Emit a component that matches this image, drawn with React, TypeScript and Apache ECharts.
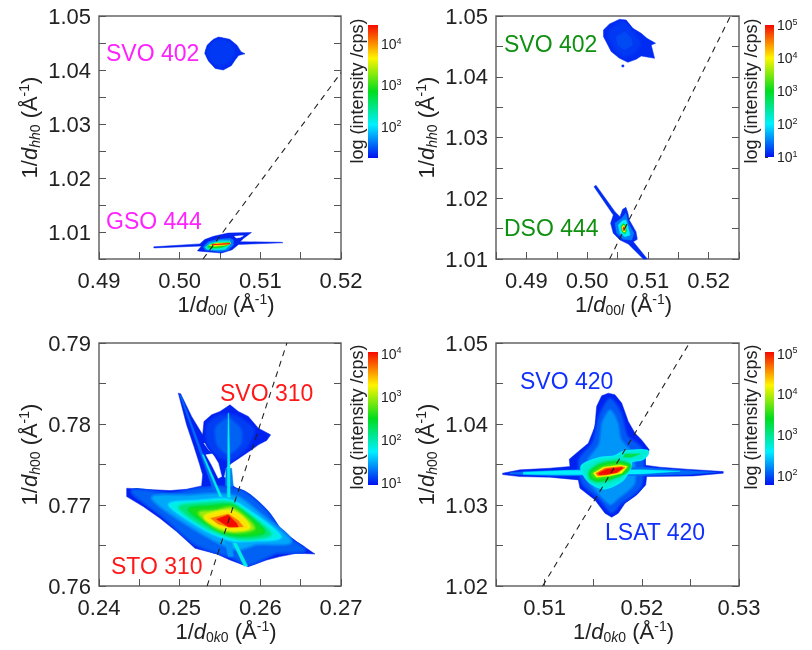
import React, { useEffect, useRef } from "react";
import * as echarts from "echarts";

type Contour = [number, number[][]];

const HOLE = -1;

const TICKS_X_A = [0.49, 0.495, 0.5, 0.505, 0.51, 0.515, 0.52];
const LABELS_X_A = [0.49, 0.5, 0.51, 0.52];
const TICKS_Y_A = [1.005, 1.01, 1.015, 1.02, 1.025, 1.03, 1.035, 1.04, 1.045, 1.05];
const LABELS_Y_A = [1.01, 1.02, 1.03, 1.04, 1.05];
const TICKS_X_B = [0.485, 0.49, 0.495, 0.5, 0.505, 0.51, 0.515, 0.52, 0.525];
const LABELS_X_B = [0.49, 0.5, 0.51, 0.52];
const TICKS_Y_B = [1.01, 1.015, 1.02, 1.025, 1.03, 1.035, 1.04, 1.045, 1.05];
const LABELS_Y_B = [1.01, 1.02, 1.03, 1.04, 1.05];
const TICKS_X_C = [0.24, 0.245, 0.25, 0.255, 0.26, 0.265, 0.27];
const LABELS_X_C = [0.24, 0.25, 0.26, 0.27];
const TICKS_Y_C = [0.76, 0.765, 0.77, 0.775, 0.78, 0.785, 0.79];
const LABELS_Y_C = [0.76, 0.77, 0.78, 0.79];
const TICKS_X_D = [0.505, 0.51, 0.515, 0.52, 0.525, 0.53];
const LABELS_X_D = [0.51, 0.52, 0.53];
const TICKS_Y_D = [1.02, 1.025, 1.03, 1.035, 1.04, 1.045, 1.05];
const LABELS_Y_D = [1.02, 1.03, 1.04, 1.05];

const CBAR_LOG_RANGE_A = [1.244, 4.46];
const CBAR_LOG_RANGE_B = [1, 5];
const CBAR_LOG_RANGE_C = [0.96, 4.04];
const CBAR_LOG_RANGE_D = [1.77, 5.04];
const CBAR_DECADES_A = [2, 3, 4];
const CBAR_DECADES_B = [1, 2, 3, 4, 5];
const CBAR_DECADES_C = [1, 2, 3, 4];
const CBAR_DECADES_D = [2, 3, 4, 5];

const DASH_A = [[0.5029, 1.005], [0.52, 1.0395]];
const DASH_B = [[0.5037, 1.01], [0.5236, 1.05]];
const DASH_C = [[0.2534, 0.76], [0.2633, 0.79]];
const DASH_D = [[0.5098, 1.02], [0.5249, 1.05]];

const CONTOURS_A: Contour[] = [
  [0.03, [[0.5048, 1.0461], [0.5062, 1.0457], [0.5071, 1.0446], [0.5076, 1.0434], [0.5081, 1.043], [0.5073, 1.0427], [0.5069, 1.0419], [0.5064, 1.0408], [0.5054, 1.04], [0.5044, 1.0403], [0.5036, 1.0416], [0.5031, 1.0431], [0.5034, 1.0446], [0.5042, 1.0457]]],
  [0.045, [[0.50417, 1.04495], [0.50521, 1.04544], [0.50624, 1.04464], [0.50665, 1.0431], [0.50603, 1.04156], [0.505, 1.04094], [0.50397, 1.04186], [0.50355, 1.0434]]],
  [0.02, [[0.4968, 1.00725], [0.5025, 1.0078], [0.5031, 1.0086], [0.5042, 1.0092], [0.506, 1.0098], [0.5089, 1.0099], [0.5079, 1.0088], [0.5075, 1.0082], [0.5126, 1.0081], [0.5128, 1.008], [0.5073, 1.0077], [0.5065, 1.0067], [0.5052, 1.0061], [0.5029, 1.0064], [0.5022, 1.0065], [0.5027, 1.0074], [0.4968, 1.00705]]],
  [HOLE, [[0.5068, 1.0092], [0.5075, 1.0093], [0.5079, 1.0093], [0.5075, 1.009], [0.507, 1.0089]]],
  [0.12, [[0.50293, 1.00728], [0.50355, 1.0082], [0.50479, 1.00864], [0.50624, 1.00881], [0.50665, 1.00854], [0.50665, 1.00759], [0.50603, 1.00666], [0.505, 1.00635], [0.50314, 1.00666]]],
  [0.3, [[0.50314, 1.00715], [0.50376, 1.0079], [0.505, 1.00839], [0.50624, 1.00839], [0.50624, 1.00759], [0.50562, 1.00678], [0.50458, 1.00666], [0.50343, 1.00678]]],
  [0.5, [[0.50343, 1.00728], [0.50417, 1.0079], [0.50624, 1.00808], [0.50591, 1.00746], [0.505, 1.00709], [0.50376, 1.00697]]],
  [0.75, [[0.50368, 1.00752], [0.50458, 1.00796], [0.50636, 1.00796], [0.50582, 1.00759], [0.50438, 1.00734]]],
  [1, [[0.50396, 1.00771], [0.50624, 1.0079], [0.50624, 1.00777], [0.50409, 1.00759]]],
];

const CONTOURS_B: Contour[] = [
  [0.03, [[0.50269, 1.0477], [0.50368, 1.04868], [0.50533, 1.04945], [0.50643, 1.04934], [0.50753, 1.04797], [0.5089, 1.04715], [0.50984, 1.04633], [0.51127, 1.04551], [0.51055, 1.04523], [0.5111, 1.04304], [0.5089, 1.04342], [0.50808, 1.04288], [0.50671, 1.04238], [0.50533, 1.04304], [0.50396, 1.04414], [0.50313, 1.04578], [0.50269, 1.0466]]],
  [0.045, [[0.50368, 1.04715], [0.50588, 1.04879], [0.50753, 1.04715], [0.50863, 1.04551], [0.50753, 1.04387], [0.50588, 1.0436], [0.50451, 1.04496]]],
  [0.065, [[0.50478, 1.0466], [0.50616, 1.04742], [0.50726, 1.04633], [0.50753, 1.04523], [0.50616, 1.04441], [0.50506, 1.04523]]],
  [0.03, [[0.50572, 1.04194], [0.50605, 1.04194], [0.50605, 1.04162], [0.50572, 1.04162]]],
  [0.03, [[0.50113, 1.02191], [0.50146, 1.02213], [0.50458, 1.01779], [0.50541, 1.01697], [0.50585, 1.01818], [0.50639, 1.0185], [0.50672, 1.01752], [0.50694, 1.01642], [0.50804, 1.0145], [0.50826, 1.01324], [0.5076, 1.01285], [0.50991, 1.01], [0.50925, 1.01], [0.50678, 1.01247], [0.50541, 1.01313], [0.50431, 1.01422], [0.50387, 1.01587], [0.50431, 1.01724]]],
  [0.12, [[0.50458, 1.01587], [0.50568, 1.01669], [0.50639, 1.01752], [0.50678, 1.01587], [0.50771, 1.01422], [0.50733, 1.01313], [0.50595, 1.01324], [0.50486, 1.01422]]],
  [0.25, [[0.50513, 1.0156], [0.50585, 1.01631], [0.50639, 1.01642], [0.50678, 1.01505], [0.50705, 1.01395], [0.50623, 1.01368], [0.50541, 1.01422]]],
  [0.5, [[0.50557, 1.01532], [0.50595, 1.01587], [0.50634, 1.0156], [0.5065, 1.01466], [0.50623, 1.01411], [0.50574, 1.0145]]],
  [0.75, [[0.50574, 1.01521], [0.50601, 1.0156], [0.50629, 1.01521], [0.50623, 1.01444], [0.50595, 1.0145]]],
  [1, [[0.5059, 1.01505], [0.50607, 1.01532], [0.50617, 1.01494], [0.50607, 1.01461]]],
];

const CONTOURS_C: Contour[] = [
  [0.02, [[0.24343, 0.77207], [0.24549, 0.77195], [0.2488, 0.77178], [0.25086, 0.77195], [0.25272, 0.77236], [0.25285, 0.77372], [0.25243, 0.77516], [0.25177, 0.77722], [0.25086, 0.7799], [0.24983, 0.78381], [0.25012, 0.78373], [0.25148, 0.78093], [0.25285, 0.77866], [0.25301, 0.78031], [0.25396, 0.78114], [0.255, 0.78155], [0.25624, 0.78237], [0.25727, 0.78155], [0.25851, 0.78093], [0.25975, 0.77949], [0.26128, 0.77866], [0.26078, 0.77796], [0.25975, 0.77743], [0.25892, 0.77681], [0.25768, 0.77599], [0.25644, 0.77516], [0.25574, 0.77454], [0.25549, 0.77351], [0.25624, 0.77269], [0.25727, 0.77187], [0.25892, 0.77084], [0.26037, 0.76981], [0.26119, 0.76836], [0.26285, 0.76672], [0.2645, 0.76548], [0.26677, 0.76396], [0.2645, 0.76404], [0.26243, 0.76363], [0.26078, 0.76321], [0.25851, 0.76239], [0.25789, 0.7626], [0.25624, 0.76321], [0.25458, 0.76396], [0.2519, 0.76466], [0.24962, 0.76672], [0.24756, 0.76836], [0.24549, 0.76981], [0.24343, 0.77104]]],
  [HOLE, [[0.25326, 0.77619], [0.25409, 0.77632], [0.25479, 0.77516], [0.2552, 0.77351], [0.25479, 0.77331], [0.25396, 0.77496]]],
  [HOLE, [[0.25301, 0.77763], [0.25355, 0.77743], [0.25425, 0.77648], [0.25367, 0.77673]]],
  [0.05, [[0.25355, 0.7799], [0.255, 0.78093], [0.25686, 0.78093], [0.25913, 0.77928], [0.2583, 0.77722], [0.25665, 0.77578], [0.255, 0.77599], [0.25355, 0.77763]]],
  [0.09, [[0.25458, 0.77949], [0.25603, 0.78052], [0.25748, 0.77928], [0.25748, 0.77763], [0.25603, 0.7764], [0.25479, 0.77743]]],
  [0.12, [[0.25574, 0.77454], [0.25644, 0.77454], [0.25665, 0.77228], [0.25566, 0.77228]]],
  [0.09, [[0.24425, 0.77166], [0.2488, 0.77125], [0.25252, 0.77187], [0.255, 0.77207], [0.25789, 0.77145], [0.26078, 0.76898], [0.26285, 0.7661], [0.26533, 0.76445], [0.26202, 0.76424], [0.25851, 0.7628], [0.25665, 0.76363], [0.2521, 0.76527], [0.24797, 0.76878]]],
  [0.1, [[0.25, 0.78361], [0.2502, 0.78348], [0.255, 0.77063], [0.25458, 0.77063]]],
  [0.17, [[0.24673, 0.77084], [0.25086, 0.77104], [0.255, 0.77125], [0.25727, 0.77084], [0.25995, 0.76878], [0.26367, 0.76548], [0.25954, 0.76527], [0.25706, 0.76466], [0.25293, 0.76651]]],
  [0.15, [[0.25562, 0.76548], [0.25644, 0.76548], [0.25665, 0.76363], [0.25603, 0.76363]]],
  [0.28, [[0.2528, 0.77619], [0.25296, 0.77619], [0.2556, 0.77022], [0.2553, 0.77014]]],
  [0.28, [[0.25644, 0.76569], [0.25685, 0.76569], [0.25843, 0.76247], [0.25797, 0.76247]]],
  [0.28, [[0.256, 0.78134], [0.25608, 0.78134], [0.25622, 0.77516], [0.25626, 0.77063], [0.2559, 0.77063], [0.25594, 0.77516]]],
  [0.28, [[0.2488, 0.77001], [0.25252, 0.77042], [0.25582, 0.77063], [0.25768, 0.76981], [0.26243, 0.7661], [0.25871, 0.76569], [0.25665, 0.76569], [0.25334, 0.76692]]],
  [0.4, [[0.25004, 0.76972], [0.25293, 0.77013], [0.25624, 0.77022], [0.25789, 0.76919], [0.26119, 0.76643], [0.2583, 0.76589], [0.25582, 0.7663], [0.25293, 0.76754]]],
  [0.52, [[0.25128, 0.76939], [0.25376, 0.76972], [0.25624, 0.76989], [0.25809, 0.76878], [0.26037, 0.76672], [0.25789, 0.7663], [0.25541, 0.76672]]],
  [0.65, [[0.25252, 0.76898], [0.25458, 0.76919], [0.25624, 0.7696], [0.25789, 0.76857], [0.25913, 0.76713], [0.25686, 0.76672], [0.25479, 0.76713]]],
  [0.77, [[0.25326, 0.76857], [0.25624, 0.76919], [0.25768, 0.76836], [0.25851, 0.76725], [0.25644, 0.767], [0.25458, 0.76754]]],
  [0.88, [[0.25384, 0.76836], [0.25603, 0.7689], [0.25727, 0.76808], [0.25789, 0.76733], [0.25624, 0.76721], [0.25479, 0.76766]]],
  [1, [[0.25458, 0.76824], [0.25603, 0.76878], [0.25706, 0.76775], [0.25727, 0.76729], [0.25603, 0.76733]]],
];

const CONTOURS_D: Contour[] = [
  [0.02, [[0.50568, 1.03392], [0.50747, 1.03434], [0.51055, 1.03454], [0.51261, 1.03475], [0.51254, 1.03565], [0.51347, 1.0366], [0.5145, 1.03763], [0.51518, 1.03969], [0.51535, 1.04216], [0.51587, 1.04348], [0.51656, 1.04381], [0.51724, 1.04361], [0.51793, 1.04258], [0.51861, 1.04031], [0.5193, 1.03887], [0.51998, 1.03804], [0.52077, 1.03681], [0.52033, 1.03578], [0.52015, 1.03495], [0.52187, 1.03467], [0.52461, 1.03442], [0.52838, 1.03413], [0.52838, 1.03392], [0.5253, 1.03359], [0.5205, 1.03351], [0.5204, 1.03248], [0.51947, 1.03125], [0.51827, 1.03022], [0.51758, 1.02898], [0.5169, 1.02849], [0.51621, 1.02898], [0.51518, 1.03063], [0.51364, 1.03207], [0.51347, 1.0331], [0.51055, 1.03343], [0.50747, 1.03351], [0.50568, 1.03376]]],
  [0.08, [[0.5157, 1.04093], [0.51673, 1.04299], [0.51775, 1.04134], [0.51844, 1.03846], [0.51998, 1.03681], [0.51981, 1.03228], [0.51775, 1.03022], [0.5169, 1.02919], [0.5157, 1.03083], [0.51398, 1.03269], [0.51364, 1.03557], [0.51501, 1.03763]]],
  [0.15, [[0.51604, 1.0401], [0.51673, 1.04155], [0.51741, 1.0401], [0.51775, 1.03804], [0.51895, 1.03619], [0.51913, 1.03269], [0.51741, 1.03083], [0.51673, 1.03022], [0.51535, 1.03186], [0.51433, 1.03351], [0.5145, 1.03537], [0.5157, 1.03743]]],
  [0.1, [[0.50644, 1.03401], [0.51055, 1.03425], [0.51501, 1.03442], [0.51998, 1.03467], [0.52461, 1.03425], [0.5277, 1.03405], [0.52461, 1.03376], [0.51998, 1.03364], [0.51055, 1.03359], [0.50644, 1.03384]]],
  [0.25, [[0.50781, 1.03405], [0.51227, 1.03425], [0.51998, 1.03434], [0.52393, 1.03417], [0.51998, 1.03384], [0.51227, 1.03372], [0.50781, 1.0338]]],
  [0.3, [[0.51398, 1.03467], [0.5157, 1.03557], [0.51724, 1.03578], [0.51827, 1.0364], [0.52043, 1.03648], [0.51998, 1.03586], [0.51878, 1.03557], [0.51861, 1.03454], [0.51775, 1.0331], [0.51604, 1.03228], [0.51467, 1.0331]]],
  [0.45, [[0.51827, 1.03631], [0.51981, 1.03631], [0.51895, 1.0359], [0.5181, 1.0359]]],
  [0.4, [[0.51467, 1.03413], [0.5157, 1.03508], [0.51741, 1.03537], [0.51861, 1.03495], [0.51827, 1.03413], [0.51707, 1.03331], [0.51553, 1.03289], [0.51467, 1.03331]]],
  [0.55, [[0.51484, 1.03401], [0.51587, 1.03483], [0.51758, 1.03516], [0.51861, 1.03483], [0.51817, 1.03413], [0.5169, 1.03351], [0.51553, 1.03318], [0.51494, 1.03343]]],
  [0.75, [[0.51501, 1.03392], [0.51604, 1.03467], [0.51775, 1.03495], [0.51851, 1.03475], [0.51793, 1.03392], [0.51673, 1.0336], [0.51535, 1.03343]]],
  [0.9, [[0.51528, 1.03392], [0.51621, 1.03454], [0.51792, 1.03475], [0.51827, 1.03462], [0.51758, 1.03401], [0.51638, 1.03372], [0.51546, 1.0336]]],
  [1, [[0.51553, 1.03392], [0.51638, 1.03442], [0.51792, 1.03462], [0.51803, 1.03454], [0.51741, 1.03401], [0.51638, 1.03376], [0.51563, 1.03372]]],
];

const FONT = "'Liberation Sans', Arial, sans-serif";
const INK = "#222";
const STOPS: [number, number[]][] = [
  [0, [0, 16, 240]],
  [0.25, [0, 240, 255]],
  [0.5, [0, 220, 30]],
  [0.75, [255, 245, 0]],
  [1, [245, 10, 0]],
];

function colorOf(t: number): string {
  if (t < 0) return "#ffffff";
  for (let i = 1; i < STOPS.length; i++) {
    if (t <= STOPS[i][0]) {
      const [t0, c0] = STOPS[i - 1];
      const [t1, c1] = STOPS[i];
      const f = (t - t0) / (t1 - t0);
      const c = c0.map((v, k) => Math.round(v + (c1[k] - v) * f));
      return `rgb(${c[0]},${c[1]},${c[2]})`;
    }
  }
  return "rgb(245,10,0)";
}

function isBroadRegion(pts: number[][]): boolean {
  let a = 0;
  let perimeter = 0;
  for (let i = 0; i < pts.length; i++) {
    const q = pts[(i + 1) % pts.length];
    a += pts[i][0] * q[1] - q[0] * pts[i][1];
    perimeter += Math.hypot(q[0] - pts[i][0], q[1] - pts[i][1]);
  }
  const area = Math.abs(a) / 2;
  return area > 350 && area / perimeter > 4;
}

const richName = {
  m: { fontSize: 22, fontFamily: FONT, color: INK },
  i: { fontSize: 22, fontFamily: FONT, fontStyle: "italic", color: INK },
  si: { fontSize: 14, fontFamily: FONT, fontStyle: "italic", color: INK, padding: [11, 0, 0, 0] },
  s: { fontSize: 14, fontFamily: FONT, color: INK, padding: [11, 0, 0, 0] },
  p: { fontSize: 14, fontFamily: FONT, color: INK, padding: [0, 0, 11, 0] },
};

const nameOf = (sub: string) => `{m|1/}{i|d}${sub}{m| (Å}{p|-1}{m|)}`;

interface Panel {
  grid: number[];
  bar: number[];
  ticksX: number[];
  labelsX: number[];
  ticksY: number[];
  labelsY: number[];
  nameX: string;
  nameY: string;
  contours: Contour[];
  dash: number[][];
  range: number[];
  decades: number[];
}

const PANELS: Panel[] = [
  { grid: [99, 16, 242, 243], bar: [368, 25, 10, 133], ticksX: TICKS_X_A, labelsX: LABELS_X_A, ticksY: TICKS_Y_A, labelsY: LABELS_Y_A, nameX: nameOf("{s|00}{si|l}"), nameY: nameOf("{si|hh}{s|0}"), contours: CONTOURS_A, dash: DASH_A, range: CBAR_LOG_RANGE_A, decades: CBAR_DECADES_A },
  { grid: [496, 16, 243, 243], bar: [765, 25, 9, 132], ticksX: TICKS_X_B, labelsX: LABELS_X_B, ticksY: TICKS_Y_B, labelsY: LABELS_Y_B, nameX: nameOf("{s|00}{si|l}"), nameY: nameOf("{si|hh}{s|0}"), contours: CONTOURS_B, dash: DASH_B, range: CBAR_LOG_RANGE_B, decades: CBAR_DECADES_B },
  { grid: [99, 343, 242, 243], bar: [368, 352, 10, 133], ticksX: TICKS_X_C, labelsX: LABELS_X_C, ticksY: TICKS_Y_C, labelsY: LABELS_Y_C, nameX: nameOf("{s|0}{si|k}{s|0}"), nameY: nameOf("{si|h}{s|00}"), contours: CONTOURS_C, dash: DASH_C, range: CBAR_LOG_RANGE_C, decades: CBAR_DECADES_C },
  { grid: [496, 343, 243, 243], bar: [765, 352, 9, 133], ticksX: TICKS_X_D, labelsX: LABELS_X_D, ticksY: TICKS_Y_D, labelsY: LABELS_Y_D, nameX: nameOf("{s|0}{si|k}{s|0}"), nameY: nameOf("{si|h}{s|00}"), contours: CONTOURS_D, dash: DASH_D, range: CBAR_LOG_RANGE_D, decades: CBAR_DECADES_D },
];

const ANNOTATIONS: [string, number, number, string][] = [
  ["SVO 402", 106, 53, "#ff22ff"],
  ["GSO 444", 106, 221, "#ff22ff"],
  ["SVO 402", 504, 44, "#109010"],
  ["DSO 444", 504, 228, "#109010"],
  ["SVO 310", 220, 393, "#ff1818"],
  ["STO 310", 111, 566, "#ff1818"],
  ["SVO 420", 520, 381, "#1030ff"],
  ["LSAT 420", 605, 532, "#1030ff"],
];

const CBAR_TITLES: [number, number][] = [[357, 91], [751, 91], [357, 417], [751, 417]];

function buildOption() {
  const grid: any[] = [];
  const xAxis: any[] = [];
  const yAxis: any[] = [];
  const series: any[] = [];

  PANELS.forEach((p, idx) => {
    const g = grid.length;
    grid.push({ left: p.grid[0], top: p.grid[1], width: p.grid[2], height: p.grid[3], show: true, borderColor: "#666", borderWidth: 1.5, backgroundColor: "#fff" });
    grid.push({ left: p.bar[0], top: p.bar[1], width: p.bar[2], height: p.bar[3], show: false });

    const xi = xAxis.length;
    const minX = p.ticksX[0];
    const maxX = p.ticksX[p.ticksX.length - 1];
    const minY = p.ticksY[0];
    const maxY = p.ticksY[p.ticksY.length - 1];
    xAxis.push({
      gridIndex: g, type: "value", min: minX, max: maxX, position: "bottom", splitLine: { show: false },
      axisLine: { show: false },
      axisTick: { inside: true, length: 7, customValues: p.ticksX, lineStyle: { color: "#555", width: 1 } },
      axisLabel: { customValues: p.labelsX, margin: 10, fontSize: 22, fontFamily: FONT, color: INK, formatter: (v: number) => v.toFixed(2) },
      name: p.nameX, nameLocation: "middle", nameGap: 28,
      nameTextStyle: { rich: richName, padding: [0, 0, 0, 12] },
    });
    xAxis.push({ gridIndex: g + 1, type: "value", min: 0, max: 1, show: false });

    const yi = yAxis.length;
    yAxis.push({
      gridIndex: g, type: "value", min: minY, max: maxY, position: "left", splitLine: { show: false },
      axisLine: { show: false },
      axisTick: { inside: true, length: 7, customValues: p.ticksY, lineStyle: { color: "#555", width: 1 } },
      axisLabel: { customValues: p.labelsY, margin: 8, fontSize: 22, fontFamily: FONT, color: INK, formatter: (v: number) => v.toFixed(2) },
      name: p.nameY, nameLocation: "middle", nameGap: 57,
      nameTextStyle: { rich: richName, padding: [0, 0, 0, 20] },
    });
    yAxis.push({
      gridIndex: g, type: "value", min: minY, max: maxY, position: "right", splitLine: { show: false },
      axisLine: { show: false },
      axisTick: { inside: true, length: 7, customValues: p.ticksY, lineStyle: { color: "#555", width: 1 } },
      axisLabel: { show: false },
    });
    yAxis.push({
      gridIndex: g + 1, type: "value", min: p.range[0], max: p.range[1], position: "right", splitLine: { show: false },
      axisLine: { show: false },
      axisTick: { inside: false, length: 3, customValues: p.decades, lineStyle: { color: "#333", width: 1 } },
      axisLabel: {
        customValues: p.decades, margin: 3,
        formatter: (v: number) => `{b|10}{e|${Math.round(v)}}`,
        rich: {
          b: { fontSize: 14, fontFamily: FONT, color: INK },
          e: { fontSize: 9, fontFamily: FONT, color: INK, padding: [0, 0, 7, 0] },
        },
      },
    });

    const contours = p.contours;
    series.push({
      type: "custom", name: `contours ${idx}`, xAxisIndex: xi, yAxisIndex: yi, silent: true, z: 2,
      data: contours.map((c) => [c[1][0][0], c[1][0][1], c[0]]),
      renderItem: (params: any, api: any) => {
        const i = params.dataIndex;
        const c = contours[i];
        const t = c[0];
        const fill = colorOf(t);
        const points = c[1].map((pt) => api.coord(pt));
        const broad = isBroadRegion(points);
        const smooth = broad && t > 0.03 ? 0.25 : 0;
        const children: any[] = [];
        let lower = -1;
        for (let j = i - 1; j >= 0; j--) {
          if (contours[j][0] >= 0 && contours[j][0] < t) {
            lower = contours[j][0];
            break;
          }
        }
        if (broad && lower >= 0) {
          const gap = t - lower;
          const widths: [number, number][] = [[6, 0.75], [4, 0.5], [2, 0.25]];
          widths.forEach(([w, k]) => {
            children.push({
              type: "polygon",
              shape: { points, smooth },
              style: { fill: "none", stroke: colorOf(t - gap * k), lineWidth: w, lineJoin: "round" },
            });
          });
        }
        children.push({
          type: "polygon",
          shape: { points, smooth },
          style: { fill, stroke: fill, lineWidth: 0.5 },
        });
        return { type: "group", children };
      },
    });
    series.push({
      type: "line", name: `dash ${idx}`, xAxisIndex: xi, yAxisIndex: yi, data: p.dash, showSymbol: false, symbol: "none", silent: true, z: 3,
      lineStyle: { color: "#222", width: 1.1, type: [6, 5] },
    });
    const stops = STOPS.map(([offset, c]) => ({ offset: 1 - offset, color: `rgb(${c[0]},${c[1]},${c[2]})` })).reverse();
    const range = p.range;
    series.push({
      type: "custom", name: `colorbar ${idx}`, xAxisIndex: xi + 1, yAxisIndex: yi + 2, silent: true, z: 1,
      data: [[0, range[0]], [1, range[1]]],
      renderItem: (params: any, api: any) => {
        if (params.dataIndex !== 0) return null;
        const a = api.coord([0, range[1]]);
        const b = api.coord([1, range[0]]);
        return {
          type: "rect",
          shape: { x: a[0], y: a[1], width: b[0] - a[0], height: b[1] - a[1] },
          style: { fill: new echarts.graphic.LinearGradient(0, 0, 0, 1, stops) },
        };
      },
    });
  });

  const graphic: any[] = [
    ...ANNOTATIONS.map(([text, x, y, fill]) => ({
      type: "text", x, y, z: 10, silent: true,
      style: { text, fill, font: `23px ${FONT}`, align: "left", verticalAlign: "middle" },
    })),
    ...CBAR_TITLES.map(([x, y]) => ({
      type: "text", x, y, z: 10, silent: true, rotation: Math.PI / 2,
      style: { text: "log (intensity /cps)", fill: INK, font: `18px ${FONT}`, align: "center", verticalAlign: "middle" },
    })),
  ];

  return { animation: false, backgroundColor: "#fff", grid, xAxis, yAxis, series, graphic };
}

export default function App() {
  const ref = useRef<HTMLDivElement>(null);
  useEffect(() => {
    const chart = echarts.init(ref.current!, undefined, { renderer: "svg" });
    chart.setOption(buildOption() as any);
    return () => chart.dispose();
  }, []);
  return (
    <div
      ref={ref}
      style={{ position: "fixed", left: 0, top: 0, width: 812, height: 650, filter: "blur(0.6px)" }}
    />
  );
}
